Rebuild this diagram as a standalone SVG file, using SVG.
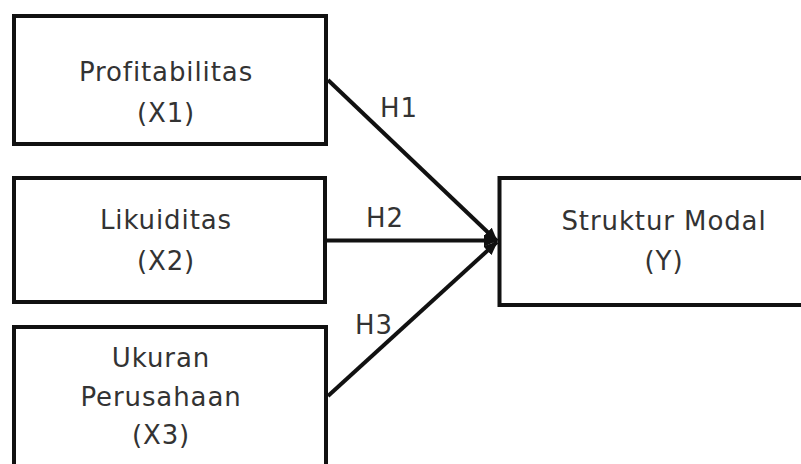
<svg xmlns="http://www.w3.org/2000/svg" width="801" height="464" viewBox="0 0 801 464">
  <style>
    .box { fill: #ffffff; stroke: #111111; stroke-width: 4; }
    .lbl { font-family: "DejaVu Sans", "Liberation Sans", sans-serif; font-size: 26px; fill: #333333; letter-spacing: 0.9px; }
    .c { text-anchor: middle; }
    .edge { stroke: #111111; stroke-width: 4; fill: none; marker-end: url(#arrow); }
  </style>
  <defs>
    <marker id="arrow" markerUnits="userSpaceOnUse" markerWidth="14" markerHeight="12" refX="13" refY="6" orient="auto">
      <path d="M0,0 L14,6 L0,12 z" fill="#111111"/>
    </marker>
  </defs>
  <rect width="801" height="464" fill="#ffffff"/>

  <g id="node-x1">
    <rect class="box" x="14" y="16" width="312" height="128"/>
    <text class="lbl c" x="166" y="81">Profitabilitas</text>
    <text class="lbl c" x="166" y="122">(X1)</text>
  </g>

  <g id="node-x2">
    <rect class="box" x="14" y="178" width="311" height="124"/>
    <text class="lbl c" x="166" y="229">Likuiditas</text>
    <text class="lbl c" x="166" y="270">(X2)</text>
  </g>

  <g id="node-x3">
    <rect class="box" x="14" y="327" width="312" height="200"/>
    <text class="lbl c" x="161" y="367">Ukuran</text>
    <text class="lbl c" x="161" y="406">Perusahaan</text>
    <text class="lbl c" x="161" y="444">(X3)</text>
  </g>

  <g id="node-y">
    <rect class="box" x="499.5" y="178" width="400" height="127"/>
    <text class="lbl c" x="664" y="230">Struktur Modal</text>
    <text class="lbl c" x="664" y="270">(Y)</text>
  </g>

  <g id="connectors">
    <line class="edge" x1="328" y1="80" x2="497" y2="241"/>
    <line class="edge" x1="327" y1="240.5" x2="497" y2="240.5"/>
    <line class="edge" x1="328" y1="396" x2="497" y2="242"/>
    <text class="lbl" x="380" y="117">H1</text>
    <text class="lbl" x="366" y="227">H2</text>
    <text class="lbl" x="355" y="334">H3</text>
  </g>
</svg>
